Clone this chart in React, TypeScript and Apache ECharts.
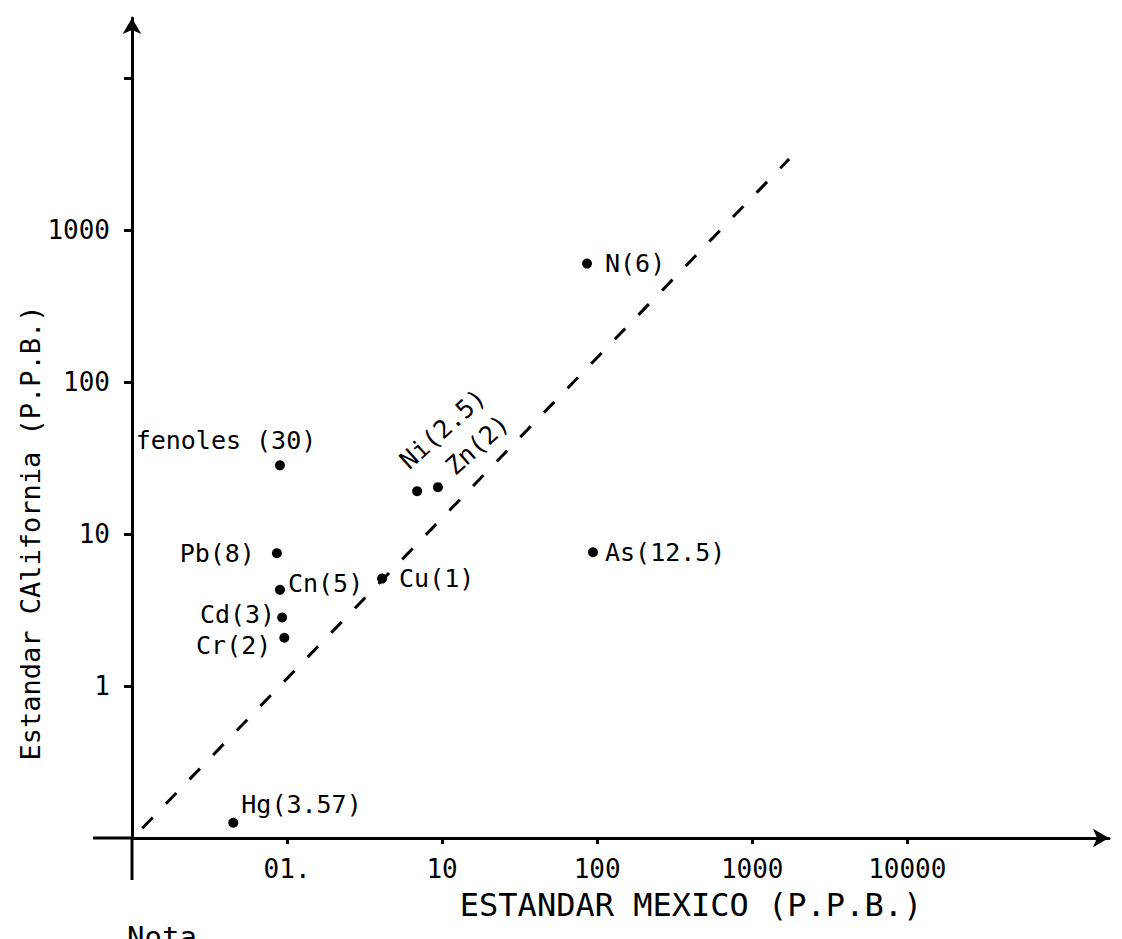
import React, { useEffect, useRef } from 'react';
import * as echarts from 'echarts';

// ---- data ----
const elementLabels = ['Hg(3.57)', 'fenoles (30)', 'Pb(8)', 'Cn(5)', 'Cd(3)', 'Cr(2)', 'Cu(1)', 'Ni(2.5)', 'Zn(2)', 'N(6)', 'As(12.5)'];
const mexicoPPB = [0.45, 0.9, 0.86, 0.9, 0.93, 0.96, 4.1, 6.9, 9.4, 86, 94];
const californiaPPB = [0.126, 28.4, 7.5, 4.3, 2.83, 2.08, 5.1, 19.2, 20.4, 604, 7.6];
const guideLineX = [0.082, 1730];
const guideLineY = [0.08, 2950];
const xTickValues = [1, 10, 100, 1000, 10000];
const xTickLabels = ['01.', '10', '100', '1000', '10000'];
const yTickValues = [1, 10, 100, 1000, 10000];
const yLabelValues = [1, 10, 100, 1000];
const yTickLabels = ['1', '10', '100', '1000'];
const xAxisTitle = 'ESTANDAR MEXICO (P.P.B.)';
const yAxisTitle = 'Estandar CAlifornia (P.P.B.)';
const noteText = 'Nota';

// ---- label placement (style, not data) ----
const labelPlacement: Record<string, { align: string; offset: number[]; rotate?: number }> = {
  'Hg(3.57)': { align: 'left', offset: [8, -18] },
  'fenoles (30)': { align: 'center', offset: [-54, -25] },
  'Pb(8)': { align: 'right', offset: [-22, 0] },
  'Cn(5)': { align: 'left', offset: [8, -6] },
  'Cd(3)': { align: 'right', offset: [-7, -3] },
  'Cr(2)': { align: 'right', offset: [-13, 8] },
  'Cu(1)': { align: 'left', offset: [17, 0] },
  'Ni(2.5)': { align: 'left', offset: [8, -29], rotate: 42 },
  'Zn(2)': { align: 'left', offset: [20, -5], rotate: 42 },
  'N(6)': { align: 'left', offset: [18, 0] },
  'As(12.5)': { align: 'left', offset: [12, 0] },
};

const FONT = '"DejaVu Sans Mono", monospace';

function lookupLabel(values: number[], labels: string[], v: number) {
  const i = values.findIndex((t) => Math.abs(Math.log10(t) - Math.log10(v)) < 1e-6);
  return i >= 0 && i < labels.length ? labels[i] : '';
}

export default function App() {
  const ref = useRef<HTMLDivElement>(null);
  useEffect(() => {
    if (!ref.current) return;
    const chart = echarts.init(ref.current, null, { renderer: 'svg' });
    const points = elementLabels.map((name, i) => {
      const p = labelPlacement[name];
      return {
        name,
        value: [mexicoPPB[i], californiaPPB[i]],
        label: {
          show: true,
          position: 'inside',
          align: p.align,
          verticalAlign: 'middle',
          offset: p.offset,
          rotate: p.rotate || 0,
          formatter: '{b}',
          color: '#000',
          fontFamily: FONT,
          fontSize: 25,
        },
      };
    });
    chart.setOption({
      animation: false,
      backgroundColor: '#ffffff',
      grid: { left: 132, right: 13, top: 18, bottom: 101, containLabel: false },
      xAxis: {
        type: 'log',
        logBase: 10,
        min: 0.1,
        max: 200000,
        axisLine: { show: true, symbol: ['none', 'arrow'], symbolSize: [14, 16], lineStyle: { color: '#000', width: 3 } },
        axisTick: { show: true, customValues: xTickValues, length: 6, lineStyle: { color: '#000', width: 3 } },
        axisLabel: {
          show: true,
          customValues: xTickValues,
          margin: 18,
          color: '#000',
          fontFamily: FONT,
          fontSize: 26,
          formatter: (v: number) => lookupLabel(xTickValues, xTickLabels, v),
        },
        splitLine: { show: false },
        minorTick: { show: false },
      },
      yAxis: {
        type: 'log',
        logBase: 10,
        min: 0.1,
        max: 25000,
        axisLine: { show: true, symbol: ['none', 'arrow'], symbolSize: [14, 16], lineStyle: { color: '#000', width: 3 } },
        axisTick: { show: true, customValues: yTickValues, length: 8, lineStyle: { color: '#000', width: 3 } },
        axisLabel: {
          show: true,
          customValues: yLabelValues,
          margin: 22,
          color: '#000',
          fontFamily: FONT,
          fontSize: 26,
          formatter: (v: number) => lookupLabel(yLabelValues, yTickLabels, v),
        },
        splitLine: { show: false },
        minorTick: { show: false },
      },
      graphic: [
        { type: 'line', shape: { x1: 93, y1: 838, x2: 132, y2: 838 }, style: { stroke: '#000', lineWidth: 3 } },
        { type: 'line', shape: { x1: 132, y1: 838, x2: 132, y2: 880 }, style: { stroke: '#000', lineWidth: 3 } },
        {
          type: 'text', x: 691, y: 905,
          style: { text: xAxisTitle, fill: '#000', font: `32px ${FONT}`, align: 'center', verticalAlign: 'middle' },
        },
        {
          type: 'text', x: 30, y: 533, rotation: Math.PI / 2,
          style: { text: yAxisTitle, fill: '#000', font: `27px ${FONT}`, align: 'center', verticalAlign: 'middle' },
        },
        {
          type: 'text', x: 127, y: 922,
          style: { text: noteText, fill: '#000', font: `29px ${FONT}`, align: 'left', verticalAlign: 'top' },
        },
      ],
      series: [
        {
          type: 'line',
          data: guideLineX.map((x, i) => [x, guideLineY[i]]),
          showSymbol: false,
          symbol: 'none',
          clip: false,
          lineStyle: { color: '#000', width: 3, type: [15, 19], opacity: 1 },
          silent: true,
          z: 1,
        },
        {
          type: 'scatter',
          data: points,
          symbol: 'circle',
          symbolSize: 10,
          itemStyle: { color: '#000', opacity: 1 },
          clip: false,
          z: 3,
        },
      ],
    });
    return () => chart.dispose();
  }, []);
  return <div ref={ref} style={{ position: 'absolute', left: 0, top: 0, width: 1122, height: 939 }} />;
}
